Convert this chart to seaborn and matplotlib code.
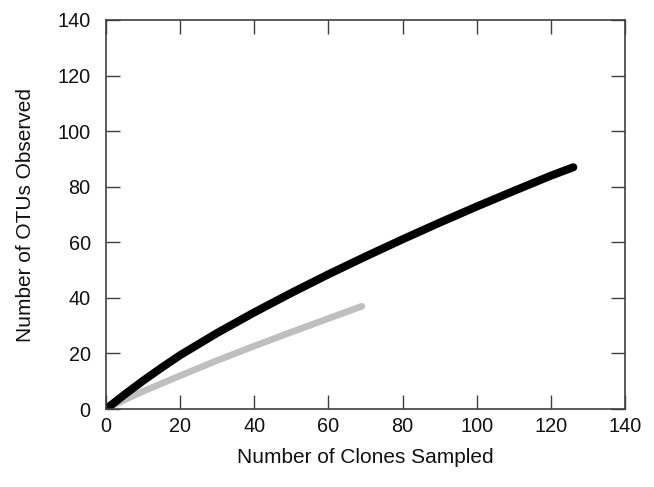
import matplotlib
matplotlib.use("Agg")
import matplotlib.pyplot as plt
import seaborn as sns
import pandas as pd

# Rarefaction curves: OTUs observed vs clones sampled
clones_a = [0, 5, 10, 15, 20, 30, 40, 50, 60, 70, 80, 90, 100, 110, 120, 126]
otus_a = [0, 5.2, 10.2, 14.9, 19.4, 27.4, 34.8, 41.8, 48.5, 54.9, 61.1, 67.1, 72.9, 78.5, 84.0, 87.0]

clones_b = [0, 5, 10, 20, 30, 40, 50, 60, 69]
otus_b = [0, 3.3, 6.4, 12.0, 17.5, 22.7, 27.7, 32.6, 37.0]

xticks = [0, 20, 40, 60, 80, 100, 120, 140]
yticks = [0, 20, 40, 60, 80, 100, 120, 140]

sns.set_style("ticks")
plt.rcParams["font.family"] = ["Liberation Sans", "DejaVu Sans"]

fig = plt.figure(figsize=(6.54, 4.87), dpi=100)
ax = fig.add_axes([0.162, 0.160, 0.794, 0.799])

df_a = pd.DataFrame({"clones": clones_a, "otus": otus_a})
df_b = pd.DataFrame({"clones": clones_b, "otus": otus_b})

sns.lineplot(data=df_b, x="clones", y="otus", ax=ax, color="#bfbfbf",
             linewidth=4.8, solid_capstyle="round", solid_joinstyle="round",
             sort=False)
sns.lineplot(data=df_a, x="clones", y="otus", ax=ax, color="black",
             linewidth=5.8, solid_capstyle="round", solid_joinstyle="round",
             sort=False)

ax.set_xlim(0, 140)
ax.set_ylim(0, 140)
ax.set_xticks(xticks)
ax.set_yticks(yticks)
ax.tick_params(direction="in", length=10, width=1, colors="#404040",
               labelcolor="#111111", labelsize=14.3, top=True, right=True)
ax.tick_params(axis="x", labeltop=False, pad=6)
ax.tick_params(axis="y", labelright=False, pad=11)
for s in ax.spines.values():
    s.set_visible(True)
    s.set_color("#404040")
    s.set_linewidth(1.2)

ax.set_xlabel("Number of Clones Sampled", fontsize=15, labelpad=8, color="#111111")
ax.set_ylabel("Number of OTUs Observed", fontsize=15, labelpad=16, color="#111111")

fig.savefig("out.png", dpi=100)
